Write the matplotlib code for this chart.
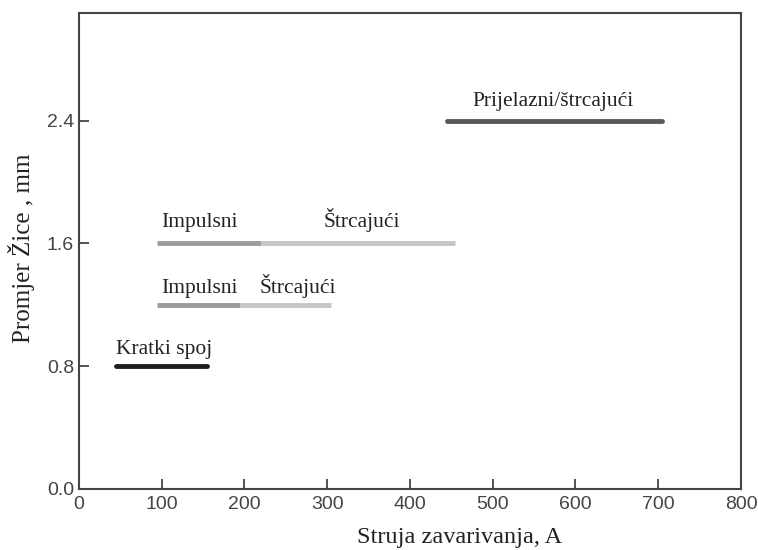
import matplotlib
matplotlib.use("Agg")
import matplotlib.pyplot as plt

# Data (current ranges in A, wire diameter in mm)
kratki_x = [45, 155]; kratki_y = 0.8
imp12_x = [95, 195]; str12_x = [195, 305]; y12 = 1.2
imp16_x = [95, 220]; str16_x = [220, 455]; y16 = 1.6
prij_x = [445, 705]; prij_y = 2.4

xticks = [0, 100, 200, 300, 400, 500, 600, 700, 800]
yticks = [0.0, 0.8, 1.6, 2.4]
ytick_labels = ["0.0", "0.8", "1.6", "2.4"]

serif = ["Liberation Serif", "DejaVu Serif"]

fig = plt.figure(figsize=(7.58, 5.5), dpi=100)
ax = fig.add_axes([0.104, 0.111, 0.9776 - 0.104, 0.976 - 0.111])

lw = 3.5
ax.plot(kratki_x, [kratki_y] * 2, color="#1e1e1e", lw=lw, solid_capstyle="round")
ax.plot(imp12_x, [y12] * 2, color="#9a9aa2", lw=lw, solid_capstyle="butt")
ax.plot(str12_x, [y12] * 2, color="#c6c6ca", lw=lw, solid_capstyle="butt")
ax.plot(imp16_x, [y16] * 2, color="#9a9aa2", lw=lw, solid_capstyle="butt")
ax.plot(str16_x, [y16] * 2, color="#c6c6ca", lw=lw, solid_capstyle="butt")
ax.plot(prij_x, [prij_y] * 2, color="#5a5a5a", lw=lw, solid_capstyle="round")

fs = 15.5
ax.text(45, 0.878, "Kratki spoj", family=serif, fontsize=fs, color="#222", va="baseline")
ax.text(99, 1.275, "Impulsni", family=serif, fontsize=fs, color="#222", va="baseline")
ax.text(219, 1.275, "Štrcajući", family=serif, fontsize=fs, color="#222", va="baseline")
ax.text(99, 1.704, "Impulsni", family=serif, fontsize=fs, color="#222", va="baseline")
ax.text(296, 1.704, "Štrcajući", family=serif, fontsize=fs, color="#222", va="baseline")
ax.text(476, 2.497, "Prijelazni/štrcajući", family=serif, fontsize=fs, color="#222", va="baseline")

ax.set_xlim(0, 800)
ax.set_ylim(0, 3.1)
ax.set_xticks(xticks)
ax.set_yticks(yticks)
ax.set_yticklabels(ytick_labels)
ax.tick_params(direction="in", length=7, width=1.3, color="#444",
               labelsize=14, labelcolor="#444")
ax.tick_params(axis="x", pad=5)
for lab in ax.get_xticklabels() + ax.get_yticklabels():
    lab.set_family(["Liberation Sans", "DejaVu Sans"])
for s in ax.spines.values():
    s.set_color("#444")
    s.set_linewidth(1.5)

fig.text(460 / 758, 1 - 537 / 550, "Struja zavarivanja, A", family=serif,
         fontsize=17.5, color="#222", ha="center", va="center")
fig.text(22 / 758, 1 - 248 / 550, "Promjer Žice , mm", family=serif,
         fontsize=18, color="#222", ha="center", va="center", rotation=90)

fig.savefig("out.png", dpi=100)
